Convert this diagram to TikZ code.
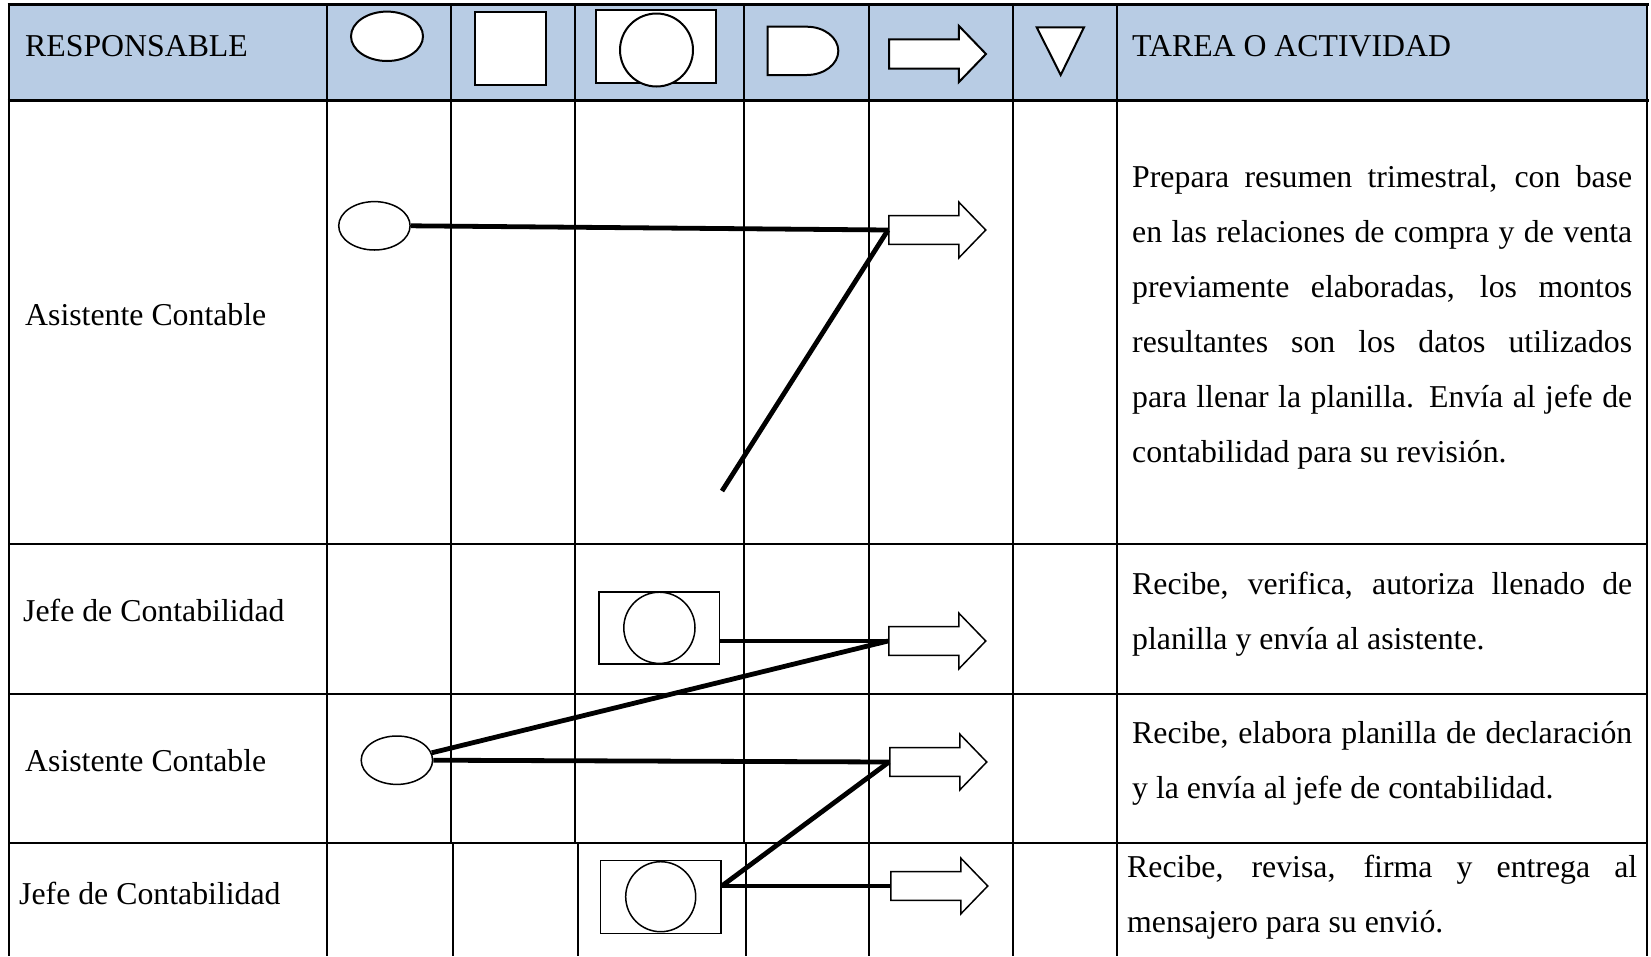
\documentclass[tikz,border=0pt]{standalone}
\usepackage{fontspec}
\setmainfont{Liberation Serif}
\usetikzlibrary{shapes.geometric,shapes.arrows,calc}
\definecolor{hdr}{HTML}{B8CCE4}
\newcommand{\jl}[1]{\makebox[\linewidth][s]{#1}}
\begin{document}
\begin{tikzpicture}[x=1pt,y=-1pt,
  grid/.style={line width=2pt},
  frame/.style={line width=3pt},
  conn/.style={line width=4.8pt},
  shp/.style={draw, line width=1.5pt, fill=white, inner sep=0pt},
  hshp/.style={shp, line width=2pt},
  oval/.style={shp, ellipse, minimum width=71.4pt, minimum height=48.4pt},
  flow/.style={shp, single arrow, inner xsep=0pt, inner ysep=13.7pt,
    minimum height=97pt, single arrow head extend=13.5pt,
    single arrow tip angle=92, anchor=tail},
  txt/.style={inner sep=0pt, font=\fontsize{31.8}{55.1}\selectfont, anchor=base west}]
\useasboundingbox (0,0) rectangle (1651,956);
% header background
\fill[hdr] (9,4) rectangle (1647,100);
% grid
\foreach \x in {326.7,450.7,575,743.8,869,1012.7,1116.8}
  \draw[grid] (\x,4) -- (\x,843);
\foreach \x in {326.7,452.8,577.8,745.6,869,1012.7,1116.8}
  \draw[grid] (\x,843) -- (\x,956);
\draw[grid] (9,4) -- (9,956);
\draw[grid] (1647,4) -- (1647,956);
\foreach \y in {544,694,843}
  \draw[grid] (9,\y) -- (1647,\y);
\draw[frame] (7.5,4) -- (1648.5,4);
\draw[frame] (7.5,100) -- (1648.5,100);
% header texts
\node[txt] (hresp) at (25,56.5) {RESPONSABLE};
\node[txt] (htarea) at (1132,56.5) {TAREA O ACTIVIDAD};
% header symbols
\node[hshp, ellipse, minimum width=72pt, minimum height=49.4pt] (h1) at (387,36.3) {};
\node[hshp, minimum width=71.5pt, minimum height=72.7pt] (h2) at (510.7,48.6) {};
\node[hshp, minimum width=120pt, minimum height=72.7pt] (h3) at (656,46.3) {};
\node[hshp, circle, minimum size=73pt] (h3c) at (656.5,50) {};
\draw[line width=2pt, fill=white] (767.7,26.7) -- (806.7,26.7)
  arc[start angle=90, end angle=-90, x radius=31.6pt, y radius=24.15pt] -- (767.7,75) -- cycle;
\node[flow, line width=2pt] (h5) at (888,54) {};
\draw[line width=2pt, fill=white] (1036.7,27.3) -- (1084,27.3) -- (1060.7,75) -- cycle;
% row labels
\node[txt] (r1) at (25,325) {Asistente Contable};
\node[txt] (r2) at (23,621.5) {Jefe de Contabilidad};
\node[txt] (r3) at (25,771.5) {Asistente Contable};
\node[txt] (r4) at (19,904.5) {Jefe de Contabilidad};
% descriptions
\node[txt] (d1) at (1132,187) {\parbox[t]{500pt}{%
\jl{Prepara resumen trimestral, con base}\\
\jl{en las relaciones de compra y de venta}\\
\jl{previamente elaboradas, los montos}\\
\jl{resultantes son los datos utilizados}\\
\jl{para llenar la planilla. Envía al jefe de}\\
contabilidad para su revisión.}};
\node[txt] (d2) at (1132,594) {\parbox[t]{500pt}{%
\jl{Recibe, verifica, autoriza llenado de}\\
planilla y envía al asistente.}};
\node[txt] (d3) at (1132,743.5) {\parbox[t]{500pt}{%
\jl{Recibe, elabora planilla de declaración}\\
y la envía al jefe de contabilidad.}};
\node[txt] (d4) at (1127,877) {\parbox[t]{510pt}{%
\jl{Recibe, revisa, firma y entrega al}\\
mensajero para su envió.}};
% flow symbols
\node[oval] (e1) at (374.4,225.8) {};
\node[flow] (a1) at (888,230) {};
\node[shp, minimum width=120.6pt, minimum height=72.3pt] (b2) at (659.3,627.9) {};
\node[shp, circle, minimum size=71.2pt] (b2c) at (659.4,627.8) {};
\node[flow] (a2) at (888,641) {};
\node[oval] (e3) at (396.9,760.2) {};
\node[flow] (a3) at (889,762) {};
\node[shp, minimum width=120.6pt, minimum height=72.6pt] (b4) at (660.7,897) {};
\node[shp, circle, minimum size=70pt] (b4c) at (660.7,896.7) {};
\node[flow] (a4) at (890,886) {};
\coordinate (c2end) at (722,491);
% connectors
\draw[conn] (e1.east) -- (a1.tail);
\draw[conn] (a1.tail) -- (c2end);
\draw[conn] (b2.east |- a2.tail) -- (a2.tail);
\draw[conn] (a2.tail) -- (e3.12);
\draw[conn] (e3.east) -- (a3.tail);
\draw[conn] (a3.tail) -- (b4.east |- a4.tail);
\draw[conn] (b4.east |- a4.tail) -- (a4.tail);
\end{tikzpicture}
\end{document}
